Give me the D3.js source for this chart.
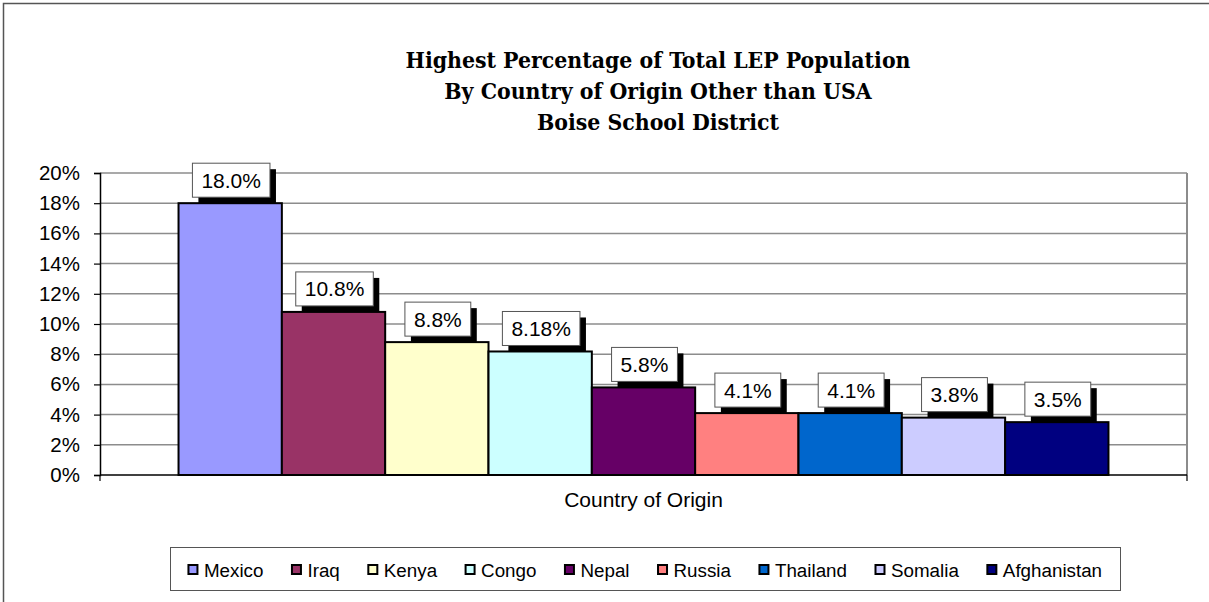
<!DOCTYPE html>
<html lang="en">
<head>
    <meta charset="UTF-8">
    <title>Highest Percentage of Total LEP Population</title>
    <script src="https://d3js.org/d3.v7.min.js"></script>
    <style>
        body { margin: 0; background: #fff; }
        text { font-family: "Liberation Sans", Arial, sans-serif; }
    </style>
</head>
<body>
    <div id="chart"></div>

    <script>
        // data
        const countries = ["Mexico", "Iraq", "Kenya", "Congo", "Nepal", "Russia", "Thailand", "Somalia", "Afghanistan"];
        const values = [18.0, 10.8, 8.8, 8.18, 5.8, 4.1, 4.1, 3.8, 3.5];
        const labels = ["18.0%", "10.8%", "8.8%", "8.18%", "5.8%", "4.1%", "4.1%", "3.8%", "3.5%"];
        const colors = ["#9999FF", "#993366", "#FFFFCC", "#CCFFFF", "#660066", "#FF8080", "#0066CC", "#CCCCFF", "#000080"];
        const yTicks = [0, 2, 4, 6, 8, 10, 12, 14, 16, 18, 20];
        const titleLines = ["Highest Percentage of Total LEP Population", "By Country of Origin Other than USA", "Boise School District"];
        const axisTitle = "Country of Origin";

        const width = 1209, height = 602;
        const plot = {left: 100, right: 1187, top: 173, bottom: 475};

        const svg = d3.select("#chart")
                      .append("svg")
                      .attr("width", width)
                      .attr("height", height);

        // outer chart border (runs off right/bottom edge)
        svg.append("rect")
           .attr("x", 3.5).attr("y", 3.5)
           .attr("width", width + 20).attr("height", height + 20)
           .attr("fill", "#fff")
           .attr("stroke", "#555").attr("stroke-width", 1.5);

        // title
        svg.append("g").selectAll("text")
           .data(titleLines)
           .join("text")
           .attr("x", 658)
           .attr("y", (d, i) => 68 + i * 31)
           .attr("text-anchor", "middle")
           .style("font-family", "'DejaVu Serif Condensed', 'Liberation Serif', serif")
           .style("font-size", "22.8px")
           .style("font-weight", "bold")
           .text(d => d);

        const y = d3.scaleLinear().domain([0, 20]).range([plot.bottom, plot.top]);
        const x = d3.scaleBand()
                    .domain(countries)
                    .range([plot.left, plot.right])
                    .paddingInner(0)
                    .paddingOuter(0.76);

        // gridlines
        svg.append("g").selectAll("line")
           .data(yTicks.filter(t => t > 0))
           .join("line")
           .attr("x1", plot.left).attr("x2", plot.right)
           .attr("y1", d => y(d)).attr("y2", d => y(d))
           .attr("stroke", "#8c8c8c").attr("stroke-width", 1.5);

        // plot area right border
        svg.append("line")
           .attr("x1", plot.right).attr("x2", plot.right)
           .attr("y1", plot.top).attr("y2", plot.bottom)
           .attr("stroke", "#8c8c8c").attr("stroke-width", 2);

        // y axis
        const yAxis = svg.append("g")
           .attr("transform", `translate(${plot.left},0)`)
           .call(d3.axisLeft(y).tickValues(yTicks).tickFormat(d => d + "%").tickSize(6).tickPadding(14));
        yAxis.select(".domain").attr("stroke", "#000").attr("stroke-width", 1.5);
        yAxis.selectAll(".tick line").attr("stroke", "#000").attr("stroke-width", 1.2);
        yAxis.selectAll(".tick text")
             .style("font-size", "20.5px")
             .style("font-family", "'Liberation Sans', Arial, sans-serif")
             .attr("fill", "#000");

        // x axis line with end ticks
        svg.append("line")
           .attr("x1", plot.left).attr("x2", plot.right)
           .attr("y1", plot.bottom).attr("y2", plot.bottom)
           .attr("stroke", "#000").attr("stroke-width", 1.5);
        svg.append("g").selectAll("line")
           .data([plot.left, plot.right])
           .join("line")
           .attr("x1", d => d).attr("x2", d => d)
           .attr("y1", plot.bottom).attr("y2", plot.bottom + 6)
           .attr("stroke", "#000").attr("stroke-width", 1.2);

        // bars
        svg.append("g").selectAll("rect")
           .data(countries)
           .join("rect")
           .attr("x", d => x(d))
           .attr("y", (d, i) => y(values[i]))
           .attr("width", x.bandwidth())
           .attr("height", (d, i) => plot.bottom - y(values[i]))
           .attr("fill", (d, i) => colors[i])
           .attr("stroke", "#000").attr("stroke-width", 2);

        // data labels: white box with black drop shadow
        const lab = svg.append("g").selectAll("g")
           .data(countries)
           .join("g")
           .attr("transform", (d, i) => `translate(${x(d) + x.bandwidth() / 2 + 1},${y(values[i]) - 23})`);

        lab.each(function(d, i) {
            const g = d3.select(this);
            const t = g.append("text")
                       .attr("text-anchor", "middle")
                       .attr("dy", "0.36em")
                       .style("font-size", "21px")
                       .text(labels[i]);
            const w = t.node().getComputedTextLength() + 18;
            const h = 34;
            g.insert("rect", "text")
             .attr("x", -w / 2 + 6).attr("y", -h / 2 + 6)
             .attr("width", w).attr("height", h)
             .attr("fill", "#000");
            g.insert("rect", "text")
             .attr("x", -w / 2).attr("y", -h / 2)
             .attr("width", w).attr("height", h)
             .attr("fill", "#fff")
             .attr("stroke", "#555").attr("stroke-width", 1);
        });

        // axis title
        svg.append("text")
           .attr("x", (plot.left + plot.right) / 2)
           .attr("y", 507)
           .attr("text-anchor", "middle")
           .style("font-size", "21px")
           .text(axisTitle);

        // legend
        const legendBox = {x: 170, y: 547, w: 950, h: 43};
        svg.append("rect")
           .attr("x", legendBox.x + 0.5).attr("y", legendBox.y + 0.5)
           .attr("width", legendBox.w).attr("height", legendBox.h)
           .attr("fill", "#fff")
           .attr("stroke", "#555").attr("stroke-width", 1);

        const legend = svg.append("g");
        let lx = 0;
        const gap = 28;
        countries.forEach((c, i) => {
            const g = legend.append("g");
            g.append("rect")
             .attr("x", 0.5).attr("y", -12)
             .attr("width", 9).attr("height", 9)
             .attr("fill", colors[i])
             .attr("stroke", "#000").attr("stroke-width", 2);
            const t = g.append("text")
             .attr("x", 16).attr("y", 0)
             .style("font-size", "18.8px")
             .text(c);
            g.attr("transform", `translate(${lx},0)`);
            lx += 16 + t.node().getComputedTextLength() + gap;
        });
        const totalW = lx - gap;
        legend.attr("transform", `translate(${legendBox.x + (legendBox.w - totalW) / 2},${577})`);
    </script>
</body>
</html>
